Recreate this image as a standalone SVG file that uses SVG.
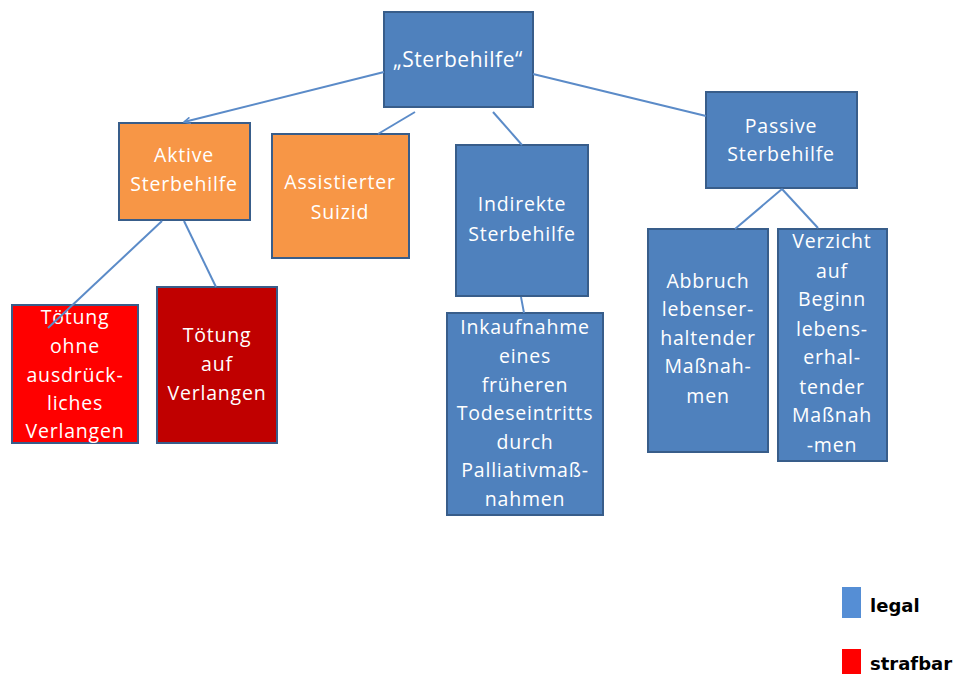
<svg xmlns="http://www.w3.org/2000/svg" width="959" height="674" viewBox="0 0 959 674">
<style>
.n{stroke:#385D8A;stroke-width:2}
.blue{fill:#4F81BD}
.orange{fill:#F79646}
.red{fill:#FF0000}
.dred{fill:#C00000}
.t{font-family:"Open Sans","Liberation Sans",sans-serif;font-size:19.5px;letter-spacing:0.8px;fill:#FFFFFF;text-anchor:middle}
.c{stroke:#5B8BC8;stroke-width:2;fill:none}
.lg{font-family:"DejaVu Sans",sans-serif;font-weight:bold;font-size:18px;fill:#000}
</style>
<defs>
<marker id="arr" viewBox="0 0 10 10" refX="9" refY="5" markerWidth="8" markerHeight="8" orient="auto" markerUnits="userSpaceOnUse">
<path d="M1,1 L9,5 L1,9" fill="none" stroke="#5B8BC8" stroke-width="2"/>
</marker>
</defs>
<rect width="959" height="674" fill="#FFFFFF"/>
<g id="root">
<rect class="n blue" x="384" y="12" width="149" height="95"/>
<text class="t" x="458" y="67" style="font-size:21px;letter-spacing:0.6px">„Sterbehilfe“</text>
</g>
<g id="aktive">
<rect class="n orange" x="119" y="123" width="131" height="97"/>
<text class="t" x="184" y="162">Aktive</text>
<text class="t" x="184" y="191">Sterbehilfe</text>
</g>
<g id="assistiert">
<rect class="n orange" x="272" y="134" width="137" height="124"/>
<text class="t" x="340" y="189">Assistierter</text>
<text class="t" x="340" y="219">Suizid</text>
</g>
<g id="ohne">
<rect class="n red" x="12" y="305" width="126" height="138"/>
<text class="t" x="75" y="324">Tötung</text>
<text class="t" x="75" y="353">ohne</text>
<text class="t" x="75" y="382">ausdrück-</text>
<text class="t" x="75" y="410">liches</text>
<text class="t" x="75" y="438">Verlangen</text>
</g>
<g id="verlangen">
<rect class="n dred" x="157" y="287" width="120" height="156"/>
<text class="t" x="217" y="342">Tötung</text>
<text class="t" x="217" y="371">auf</text>
<text class="t" x="217" y="400">Verlangen</text>
</g>
<g id="indirekt">
<rect class="n blue" x="456" y="145" width="132" height="151"/>
<text class="t" x="522" y="211">Indirekte</text>
<text class="t" x="522" y="241">Sterbehilfe</text>
</g>
<g id="inkauf">
<rect class="n blue" x="447" y="313" width="156" height="202"/>
<text class="t" x="525" y="334">Inkaufnahme</text>
<text class="t" x="525" y="363">eines</text>
<text class="t" x="525" y="392">früheren</text>
<text class="t" x="525" y="420">Todeseintritts</text>
<text class="t" x="525" y="449">durch</text>
<text class="t" x="525" y="477">Palliativmaß-</text>
<text class="t" x="525" y="506">nahmen</text>
</g>
<g id="passiv">
<rect class="n blue" x="706" y="92" width="151" height="96"/>
<text class="t" x="781" y="133">Passive</text>
<text class="t" x="781" y="161">Sterbehilfe</text>
</g>
<g id="abbruch">
<rect class="n blue" x="648" y="229" width="120" height="223"/>
<text class="t" x="708" y="288">Abbruch</text>
<text class="t" x="708" y="316">lebenser-</text>
<text class="t" x="708" y="345">haltender</text>
<text class="t" x="708" y="373">Maßnah-</text>
<text class="t" x="708" y="403">men</text>
</g>
<g id="verzicht">
<rect class="n blue" x="778" y="229" width="109" height="232"/>
<text class="t" x="832" y="248">Verzicht</text>
<text class="t" x="832" y="278">auf</text>
<text class="t" x="832" y="306">Beginn</text>
<text class="t" x="832" y="336">lebens-</text>
<text class="t" x="832" y="364">erhal-</text>
<text class="t" x="832" y="394">tender</text>
<text class="t" x="832" y="422">Maßnah</text>
<text class="t" x="832" y="452">-men</text>
</g>
<g id="connectors">
<line class="c" x1="384" y1="72" x2="184" y2="122" marker-end="url(#arr)"/>
<line class="c" x1="415" y1="112" x2="378" y2="134"/>
<line class="c" x1="493" y1="112" x2="522" y2="145"/>
<line class="c" x1="533" y1="74" x2="706" y2="116"/>
<line class="c" x1="162" y1="221" x2="48" y2="328"/>
<line class="c" x1="184" y1="221" x2="216" y2="287"/>
<line class="c" x1="521" y1="297" x2="524" y2="313"/>
<line class="c" x1="782" y1="189" x2="735" y2="229"/>
<line class="c" x1="782" y1="189" x2="818" y2="228"/>
</g>
<g id="legend">
<rect x="842" y="587" width="19" height="31" fill="#558ED5"/>
<text class="lg" x="870" y="612">legal</text>
<rect x="842" y="649" width="19" height="25" fill="#FF0000"/>
<text class="lg" x="870" y="670">strafbar</text>
</g>
</svg>
